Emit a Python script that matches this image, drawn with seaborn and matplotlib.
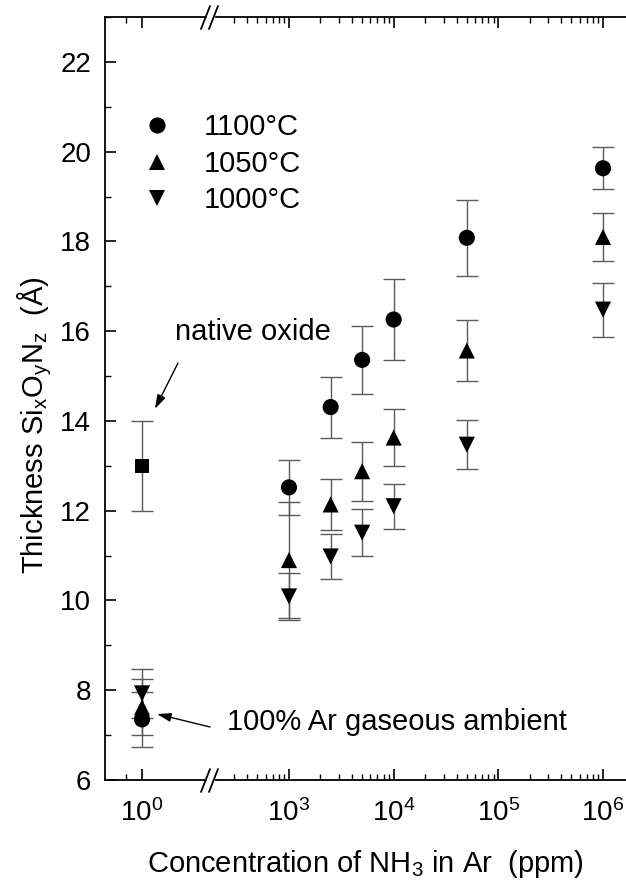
#!/usr/bin/env python3
"""
SixOyNz thickness vs NH3 concentration (broken log x axis), seaborn + matplotlib.
Output: out.png
"""

import matplotlib
matplotlib.use('Agg')
import matplotlib.pyplot as plt
import matplotlib.ticker as mticker
from matplotlib.lines import Line2D
import pandas as pd
import seaborn as sns

# NH3 concentration in Ar (ppm); 1 ppm column = 100% Ar reference
conc = [1, 1e3, 2.5e3, 5e3, 1e4, 5e4, 1e6]
temps = ['1100°C', '1050°C', '1000°C']

thick_1100 = [7.35, 12.52, 14.31, 15.36, 16.26, 18.08, 19.63]
err_1100 = [0.62, 0.62, 0.68, 0.75, 0.90, 0.84, 0.47]
thick_1050 = [7.62, 10.90, 12.14, 12.88, 13.63, 15.57, 18.10]
err_1050 = [0.62, 1.30, 0.57, 0.66, 0.63, 0.69, 0.53]
thick_1000 = [7.93, 10.09, 10.98, 11.51, 12.10, 13.47, 16.48]
err_1000 = [0.54, 0.53, 0.50, 0.52, 0.50, 0.55, 0.60]

native_conc = [1]
native_thick = [13.0]
native_err = [1.0]

x_majors = [1e0, 1e3, 1e4, 1e5, 1e6]
y_majors = [6, 8, 10, 12, 14, 16, 18, 20, 22]

W, H = 626, 884


def build_df():
    rows = []
    for t, th, er in zip(temps, [thick_1100, thick_1050, thick_1000],
                         [err_1100, err_1050, err_1000]):
        for c, v, e in zip(conc, th, er):
            rows.append({'conc': c, 'thick': v, 'err': e, 'temp': t})
    return pd.DataFrame(rows)


def px(x, y):
    # pixel (top-left origin) -> figure fraction
    return x / W, 1 - y / H


sns.set_theme(style='ticks')
plt.rcParams['font.family'] = ['Liberation Sans', 'DejaVu Sans']
plt.rcParams['mathtext.fontset'] = 'custom'
plt.rcParams['mathtext.rm'] = 'Liberation Sans'
plt.rcParams['mathtext.it'] = 'Liberation Sans:italic'
plt.rcParams['mathtext.default'] = 'regular'
for key in ('text.color', 'axes.labelcolor', 'xtick.color', 'ytick.color',
            'axes.edgecolor'):
    plt.rcParams[key] = 'black'

df = build_df()
nat = pd.DataFrame({'conc': native_conc, 'thick': native_thick, 'err': native_err})

fig = plt.figure(figsize=(W / 100, H / 100), dpi=100)
bottom = 1 - 780 / H
height = (780 - 17) / H
ax1 = fig.add_axes([105 / W, bottom, (206 - 105) / W, height])
ax2 = fig.add_axes([216 / W, bottom, (640 - 216) / W, height])

dec = 104.7  # pixels per decade
ax1.set_xscale('log')
ax2.set_xscale('log')
ax1.set_xlim(10 ** (-37 / dec), 10 ** (64 / dec))
ax2.set_xlim(10 ** (3 - (289 - 216) / dec), 10 ** (6 + (640 - 603) / dec))
for ax in (ax1, ax2):
    ax.set_ylim(6, 23)

markers = {'1100°C': 'o', '1050°C': '^', '1000°C': 'v'}
for ax in (ax1, ax2):
    ax.errorbar(df['conc'], df['thick'], yerr=df['err'], fmt='none',
                ecolor='#5a5a5a', elinewidth=1.0, capsize=8, capthick=1.0, zorder=2)
    sns.scatterplot(data=df, x='conc', y='thick', style='temp', markers=markers,
                    color='black', s=135, linewidth=0, ax=ax,
                    legend=(ax is ax2), zorder=3, clip_on=False)

# native oxide reference
ax1.errorbar(nat['conc'], nat['thick'], yerr=nat['err'], fmt='none',
             ecolor='#5a5a5a', elinewidth=1.0, capsize=8, capthick=1.0, zorder=2)
sns.scatterplot(data=nat, x='conc', y='thick', marker='s', color='black',
                s=95, linewidth=0, ax=ax1, legend=False, zorder=3)

# ticks
for ax in (ax1, ax2):
    ax.set_xlabel('')
    ax.set_ylabel('')
    ax.tick_params(axis='both', which='both', direction='in', top=True, right=True,
                   colors='black', labelsize=20)
    ax.tick_params(which='major', length=8, width=1.2)
    ax.tick_params(which='minor', length=4.5, width=1.0)
    ax.yaxis.set_major_locator(mticker.FixedLocator(y_majors))
    ax.yaxis.set_minor_locator(mticker.MultipleLocator(1))
    ax.xaxis.set_major_locator(mticker.FixedLocator(x_majors))
    ax.xaxis.set_major_formatter(mticker.LogFormatterSciNotation())
    ax.tick_params(axis='x', pad=14)
    for s in ax.spines.values():
        s.set_linewidth(1.3)
        s.set_color('black')

ax1.xaxis.set_minor_locator(mticker.FixedLocator([0.7]))
ax2.xaxis.set_minor_locator(mticker.LogLocator(base=10, subs=range(2, 10), numticks=20))
ax1.xaxis.set_minor_formatter(mticker.NullFormatter())
ax2.xaxis.set_minor_formatter(mticker.NullFormatter())
ax1.spines['right'].set_visible(False)
ax2.spines['left'].set_visible(False)
ax1.tick_params(axis='y', which='both', right=False)
ax1.tick_params(axis='y', which='major', pad=10)
ax2.tick_params(axis='y', which='both', left=False, labelleft=False)

# break marks  //
for y0 in (780, 17):
    for x0 in (201, 209):
        fig.add_artist(Line2D([x0 / W, (x0 + 9) / W],
                              [1 - (y0 + 12) / H, 1 - (y0 - 11) / H],
                              transform=fig.transFigure, color='black', lw=1.3))

# legend
handles, labels = ax2.get_legend_handles_labels()
ax2.get_legend().remove()
fig.legend(handles, labels, loc='upper left', bbox_to_anchor=px(142, 113),
           frameon=False, fontsize=21, handlelength=1.0, handletextpad=1.1,
           labelspacing=0.3, borderpad=0, borderaxespad=0)

# annotations
fig.text(*px(175, 332), 'native oxide', fontsize=21, va='center', ha='left')
ax1.annotate('', xy=(1.33, 14.27), xycoords='data',
             xytext=(178, H - 363), textcoords='figure pixels',
             arrowprops=dict(arrowstyle='-|>,head_length=0.7,head_width=0.22',
                             color='black', lw=1.0, shrinkA=0, shrinkB=0),
             annotation_clip=False)
fig.text(*px(227, 722), '100% Ar gaseous ambient', fontsize=21, va='center', ha='left')
ax1.annotate('', xy=(1.39, 7.47), xycoords='data',
             xytext=(210, H - 727), textcoords='figure pixels',
             arrowprops=dict(arrowstyle='-|>,head_length=0.7,head_width=0.22',
                             color='black', lw=1.0, shrinkA=0, shrinkB=0),
             annotation_clip=False)

# axis labels
fig.text(*px(365, 872), 'Concentration of NH$_3$ in Ar  (ppm)', fontsize=21,
         ha='center', va='baseline')
fig.text(*px(43, 425), 'Thickness Si$_x$O$_y$N$_z$  (Å)', fontsize=21,
         rotation=90, rotation_mode='anchor', ha='center', va='baseline')

fig.savefig('out.png', dpi=100)
